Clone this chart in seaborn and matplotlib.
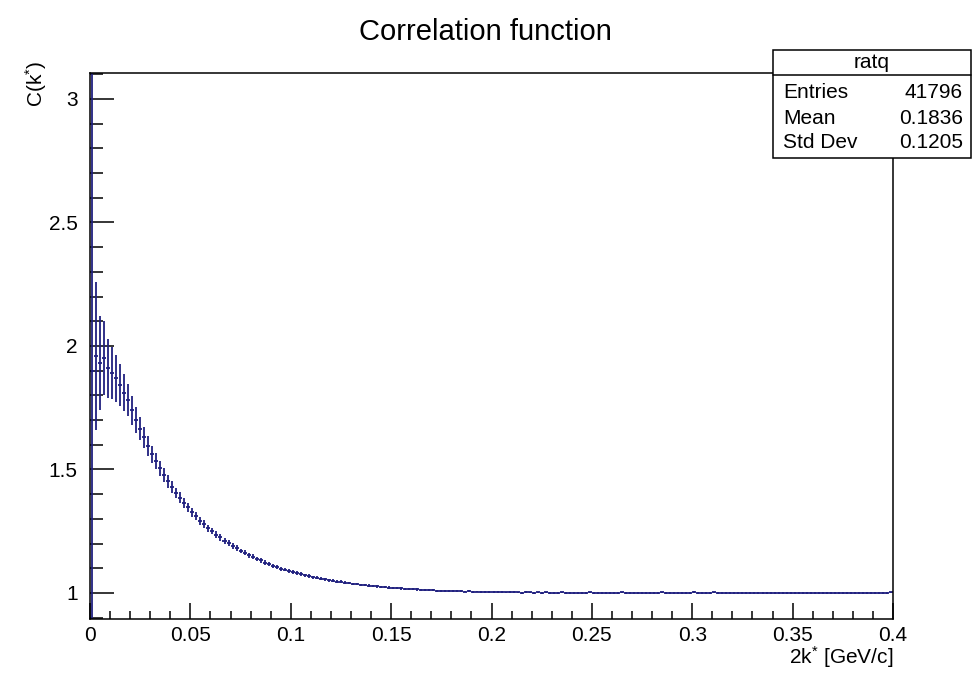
import numpy as np
import pandas as pd
import matplotlib
matplotlib.use("Agg")
import matplotlib.pyplot as plt
import matplotlib.ticker as mtick
from matplotlib.patches import Rectangle
from matplotlib.lines import Line2D
import seaborn as sns

### Data (200 bins of 0.002 GeV/c)

bin_width = 0.002
n_bins = 200

corr_values = [
    1.900, 1.960, 1.930, 1.950, 1.910, 1.890, 1.870, 1.840, 1.810, 1.780,
    1.740, 1.700, 1.665, 1.630, 1.595, 1.562, 1.535, 1.505, 1.478, 1.452,
    1.430, 1.405, 1.386, 1.364, 1.347, 1.326, 1.311, 1.293, 1.279, 1.262,
    1.251, 1.236, 1.225, 1.212, 1.202, 1.190, 1.182, 1.170, 1.163, 1.153,
    1.147, 1.137, 1.132, 1.123, 1.118, 1.110, 1.106, 1.099, 1.095, 1.089,
    1.085, 1.080, 1.077, 1.071, 1.069, 1.064, 1.062, 1.057, 1.056, 1.051,
    1.050, 1.046, 1.045, 1.041, 1.040, 1.037, 1.036, 1.033, 1.032, 1.030,
    1.029, 1.027, 1.025, 1.024, 1.022, 1.021, 1.020, 1.019, 1.017, 1.017,
    1.016, 1.015, 1.013, 1.013, 1.012, 1.011, 1.010, 1.010, 1.009, 1.009,
    1.008, 1.008, 1.007, 1.006, 1.007, 1.005, 1.006, 1.004, 1.005, 1.004,
    1.004, 1.003, 1.004, 1.002, 1.003, 1.003, 1.002, 1.001, 1.003, 1.002,
    1.001, 1.002, 1.000, 1.002, 1.001, 1.000, 1.001, 1.002, 0.999, 1.001,
    1.000, 1.001, 0.999, 1.000, 1.002, 1.000, 0.999, 1.001, 1.000, 0.998,
    1.001, 1.000, 1.002, 0.999, 1.000, 1.001, 0.999, 1.000, 1.001, 1.000,
    0.999, 1.000, 1.002, 1.001, 0.999, 1.000, 1.001, 0.998, 1.000, 1.001,
    1.003, 1.000, 0.999, 1.001, 1.000, 1.002, 0.999, 1.000, 1.001, 1.000,
    0.999, 1.001, 1.000, 0.999, 1.000, 1.001, 1.000, 0.999, 1.000, 0.999,
    1.000, 1.001, 0.999, 1.000, 1.000, 0.999, 1.001, 1.000, 0.999, 1.000,
    1.000, 0.999, 1.000, 1.001, 0.999, 1.000, 1.000, 0.999, 1.000, 1.000,
    0.999, 1.000, 1.000, 1.001, 0.999, 1.000, 1.000, 0.999, 1.000, 1.002,
]

corr_errors = [
    1.250, 0.300, 0.190, 0.150, 0.120, 0.105, 0.095, 0.085, 0.075, 0.065,
    0.058, 0.052, 0.047, 0.043, 0.039, 0.035, 0.032, 0.030, 0.028, 0.026,
    0.024, 0.022, 0.021, 0.020, 0.019, 0.018, 0.017, 0.016, 0.015, 0.015,
    0.014, 0.013, 0.013, 0.012, 0.012, 0.011, 0.011, 0.010, 0.010, 0.010,
    0.009, 0.009, 0.009, 0.009, 0.008, 0.008, 0.008, 0.008, 0.008, 0.007,
    0.007, 0.007, 0.007, 0.007, 0.007, 0.006, 0.006, 0.006, 0.006, 0.006,
    0.006, 0.006, 0.006, 0.006, 0.005, 0.005, 0.005, 0.005, 0.005, 0.005,
    0.005, 0.005, 0.005, 0.005, 0.005, 0.005, 0.005, 0.005, 0.005, 0.005,
    0.005, 0.005, 0.005, 0.004, 0.004, 0.004, 0.004, 0.004, 0.004, 0.004,
    0.004, 0.004, 0.004, 0.004, 0.004, 0.004, 0.004, 0.004, 0.004, 0.004,
    0.004, 0.004, 0.004, 0.004, 0.004, 0.004, 0.004, 0.004, 0.004, 0.004,
    0.004, 0.004, 0.004, 0.004, 0.004, 0.004, 0.004, 0.004, 0.004, 0.004,
    0.004, 0.004, 0.004, 0.004, 0.004, 0.004, 0.004, 0.004, 0.004, 0.004,
    0.004, 0.004, 0.004, 0.004, 0.004, 0.004, 0.004, 0.004, 0.004, 0.004,
    0.004, 0.004, 0.004, 0.004, 0.004, 0.004, 0.004, 0.004, 0.004, 0.004,
    0.004, 0.004, 0.004, 0.004, 0.004, 0.004, 0.004, 0.004, 0.004, 0.004,
    0.004, 0.004, 0.004, 0.004, 0.004, 0.004, 0.004, 0.004, 0.004, 0.004,
    0.004, 0.004, 0.004, 0.004, 0.004, 0.004, 0.004, 0.004, 0.004, 0.004,
    0.004, 0.004, 0.004, 0.004, 0.004, 0.004, 0.004, 0.004, 0.004, 0.004,
    0.004, 0.004, 0.004, 0.004, 0.004, 0.004, 0.004, 0.004, 0.004, 0.004,
]

stats_labels = ["Entries", "Mean", "Std Dev"]
stats_values = ["41796", "0.1836", "0.1205"]
hist_name = "ratq"

df = pd.DataFrame({
    "k": np.arange(n_bins) * bin_width + bin_width / 2,
    "C": corr_values,
    "err": corr_errors,
})

### Visual

sns.set_theme(style="white")
plt.rcParams["font.family"] = ["Liberation Sans", "DejaVu Sans"]
plt.rcParams["mathtext.fontset"] = "custom"
plt.rcParams["mathtext.rm"] = "Liberation Sans"
plt.rcParams["mathtext.it"] = "Liberation Sans"
plt.rcParams["text.color"] = "black"
plt.rcParams["xtick.labelcolor"] = "black"
plt.rcParams["ytick.labelcolor"] = "black"

navy = "#20207f"

fig = plt.figure(figsize=(9.72, 6.75), dpi=100)
ax = fig.add_axes([90 / 972, 1 - 619 / 675, 803 / 972, 546 / 675])

ax.errorbar(df["k"], df["C"], yerr=df["err"], xerr=bin_width / 2,
            fmt="none", ecolor=navy, elinewidth=1.3, capsize=0)

ax.set_xlim(0, 0.4)
ax.set_ylim(0.8947, 3.105)

ax.xaxis.set_major_locator(mtick.MultipleLocator(0.05))
ax.xaxis.set_minor_locator(mtick.MultipleLocator(0.01))
ax.yaxis.set_major_locator(mtick.MultipleLocator(0.5))
ax.yaxis.set_minor_locator(mtick.MultipleLocator(0.1))
ax.xaxis.set_major_formatter(mtick.FuncFormatter(lambda v, p: "0" if abs(v) < 1e-9 else f"{v:g}"))
ax.yaxis.set_major_formatter(mtick.FuncFormatter(lambda v, p: f"{v:g}"))

ax.tick_params(axis="y", which="major", direction="in", length=17, width=1.1,
               color="black", labelcolor="black", labelsize=15, pad=9, left=True, right=False)
ax.tick_params(axis="y", which="minor", direction="in", length=9, width=1.1,
               color="black", left=True, right=False)
ax.tick_params(axis="x", which="major", direction="in", length=11.5, width=1.1,
               color="black", labelcolor="black", labelsize=15, pad=5, bottom=True, top=False)
ax.tick_params(axis="x", which="minor", direction="in", length=6, width=1.1,
               color="black", bottom=True, top=False)

for side in ax.spines.values():
    side.set_color("black")
    side.set_linewidth(1.1)

ax.set_xlabel("")
ax.set_ylabel("")

fig.text(485 / 972, 1 - 32 / 675, "Correlation function", ha="center", va="center", fontsize=21)
fig.text(893 / 972, 1 - 657 / 675, r"2k$^{*}$ [GeV/c]", ha="right", va="center", fontsize=15)
fig.text(36 / 972, 1 - 60 / 675, r"C(k$^{*}$)", ha="center", va="top", rotation=90, fontsize=15)

# stats box (ROOT style)
bx0, bx1 = 773 / 972, 971 / 972
by_top, by_head, by_bot = 1 - 50 / 675, 1 - 75 / 675, 1 - 158 / 675
fig.patches.append(Rectangle((bx0, by_bot), bx1 - bx0, by_top - by_bot, transform=fig.transFigure,
                             facecolor="white", edgecolor="black", linewidth=1.1, zorder=5))
fig.lines.append(Line2D([bx0, bx1], [by_head, by_head], transform=fig.transFigure,
                        color="black", linewidth=1.1, zorder=6))
fig.text((bx0 + bx1) / 2, 1 - 62 / 675, hist_name, ha="center", va="center", fontsize=15, zorder=7)
row_y = [93, 118, 143]
for lab, val, yy in zip(stats_labels, stats_values, row_y):
    fig.text(783 / 972, 1 - yy / 675, lab, ha="left", va="center", fontsize=15, zorder=7)
    fig.text(963 / 972, 1 - yy / 675, val, ha="right", va="center", fontsize=15, zorder=7)

plt.savefig("out.png", dpi=100)
